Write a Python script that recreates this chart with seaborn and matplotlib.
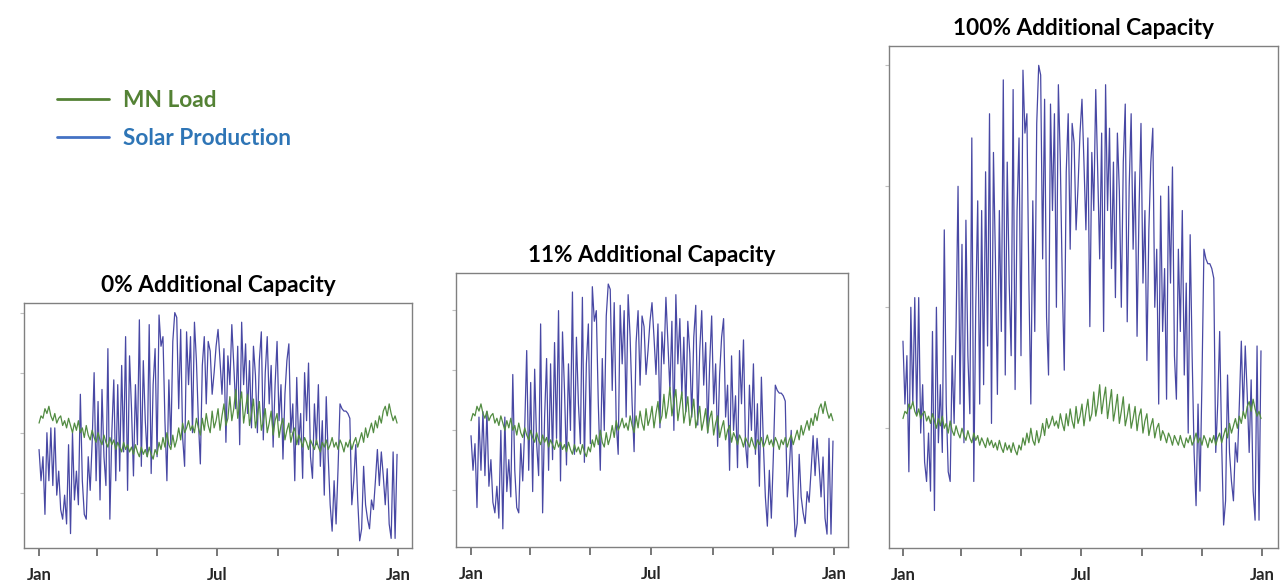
import numpy as np
import pandas as pd
import matplotlib
matplotlib.use("Agg")
import matplotlib.pyplot as plt
from matplotlib.lines import Line2D
from matplotlib.ticker import MultipleLocator
import seaborn as sns

# Daily solar output at today's capacity, one reading every 2 days (summer peak ~1.0)
solar_base = [
    0.43, 0.30, 0.40, 0.16, 0.50, 0.30, 0.52, 0.28, 0.52, 0.24, 0.34, 0.18, 0.14, 0.24, 0.12,
    0.45, 0.08, 0.50, 0.22, 0.34, 0.20, 0.66, 0.30, 0.16, 0.14, 0.40, 0.26, 0.46, 0.75, 0.30,
    0.63, 0.22, 0.68, 0.40, 0.28, 0.85, 0.14, 0.50, 0.72, 0.30, 0.70, 0.34, 0.78, 0.42, 0.90,
    0.26, 0.82, 0.60, 0.32, 0.70, 0.45, 0.97, 0.36, 0.80, 0.55, 0.40, 0.95, 0.33, 0.70, 0.85,
    0.40, 0.99, 0.86, 0.90, 0.55, 0.30, 0.72, 0.45, 0.88, 1.00, 0.98, 0.60, 0.93, 0.48, 0.36,
    0.92, 0.70, 0.90, 0.50, 0.96, 0.80, 0.55, 0.37, 0.78, 0.90, 0.62, 0.88, 0.84, 0.66, 0.75,
    0.86, 0.93, 0.80, 0.66, 0.85, 0.46, 0.82, 0.70, 0.95, 0.78, 0.60, 0.86, 0.45, 0.96, 0.70,
    0.87, 0.58, 0.80, 0.52, 0.86, 0.74, 0.50, 0.80, 0.92, 0.47, 0.75, 0.90, 0.62, 0.78, 0.44,
    0.70, 0.88, 0.55, 0.70, 0.39, 0.66, 0.80, 0.87, 0.50, 0.62, 0.30, 0.73, 0.45, 0.58, 0.31,
    0.75, 0.55, 0.79, 0.40, 0.31, 0.62, 0.45, 0.70, 0.36, 0.55, 0.24, 0.65, 0.40, 0.20, 0.09,
    0.30, 0.12, 0.35, 0.62, 0.60, 0.59, 0.59, 0.58, 0.56, 0.20, 0.30, 0.45, 0.22, 0.05, 0.10,
    0.36, 0.20, 0.14, 0.10, 0.22, 0.18, 0.30, 0.43, 0.28, 0.42, 0.32, 0.20, 0.35, 0.12, 0.06,
    0.42, 0.06, 0.41,
]

# Minnesota load in the same units, one reading every 2 days
mn_load = [
    0.54, 0.57, 0.56, 0.60, 0.58, 0.61, 0.57, 0.55, 0.58, 0.54, 0.56, 0.57, 0.53, 0.55, 0.52, 0.56,
    0.53, 0.50, 0.54, 0.51, 0.55, 0.50, 0.52, 0.48, 0.53, 0.49, 0.47, 0.51, 0.48, 0.46, 0.50,
    0.47, 0.45, 0.49, 0.46, 0.44, 0.48, 0.45, 0.47, 0.43, 0.46, 0.44, 0.42, 0.46, 0.43, 0.45,
    0.42, 0.44, 0.41, 0.45, 0.42, 0.40, 0.44, 0.41, 0.43, 0.40, 0.44, 0.41, 0.39, 0.43, 0.41,
    0.46, 0.43, 0.48, 0.44, 0.50, 0.45, 0.43, 0.49, 0.44, 0.47, 0.52, 0.47, 0.54, 0.50, 0.52,
    0.55, 0.51, 0.53, 0.50, 0.56, 0.52, 0.49, 0.56, 0.51, 0.58, 0.53, 0.50, 0.59, 0.52, 0.55,
    0.60, 0.51, 0.57, 0.62, 0.53, 0.56, 0.65, 0.55, 0.60, 0.68, 0.56, 0.62, 0.67, 0.54, 0.60,
    0.66, 0.53, 0.58, 0.64, 0.52, 0.57, 0.63, 0.51, 0.55, 0.60, 0.50, 0.54, 0.59, 0.49, 0.55,
    0.58, 0.48, 0.53, 0.56, 0.47, 0.51, 0.54, 0.46, 0.50, 0.52, 0.45, 0.49, 0.47, 0.44, 0.48,
    0.46, 0.43, 0.47, 0.45, 0.43, 0.47, 0.44, 0.42, 0.46, 0.44, 0.47, 0.43, 0.45, 0.48, 0.44,
    0.46, 0.43, 0.47, 0.45, 0.42, 0.46, 0.44, 0.47, 0.43, 0.46, 0.48, 0.44, 0.47, 0.50, 0.46,
    0.52, 0.48, 0.51, 0.54, 0.50, 0.55, 0.52, 0.57, 0.54, 0.59, 0.61, 0.57, 0.62, 0.58, 0.55,
    0.57, 0.54,
]

capacity_titles = ["0% Additional Capacity", "11% Additional Capacity", "100% Additional Capacity"]
capacity_scale = [1.0, 1.11, 2.0]

month_ticks = [0, 59, 120, 181, 243, 304, 365]
month_labels = ["Jan", "", "", "Jul", "", "", "Jan"]

solar_days = np.arange(len(solar_base)) * 2
load_days = np.arange(len(mn_load)) * 2

SOLAR_COLOR = "#4848a4"
LOAD_COLOR = "#528c42"

sns.set_style("white")
plt.rcParams["font.family"] = ["Lato", "DejaVu Sans"]

fig = plt.figure(figsize=(12.8, 5.84), dpi=100)

# panel boxes in figure fractions, and their y ranges
rects = [
    [24 / 1280, 36 / 584, 388 / 1280, 245 / 584],
    [456 / 1280, 37 / 584, 392 / 1280, 274 / 584],
    [889 / 1280, 36 / 584, 389 / 1280, 502 / 584],
]
ylims = [(0.02, 1.04), (0.013, 1.156), (0.005, 2.08)]
xlims = [(-15.3, 379.2), (-15.1, 379.1), (-14.2, 381.3)]
ysteps = [0.25, 0.25, 0.5]

for i, title in enumerate(capacity_titles):
    ax = fig.add_axes(rects[i])
    solar = pd.DataFrame({"day": solar_days,
                          "mw": np.array(solar_base) * capacity_scale[i]})
    load = pd.DataFrame({"day": load_days, "mw": mn_load})
    sns.lineplot(data=solar, x="day", y="mw", ax=ax, color=SOLAR_COLOR, linewidth=0.9)
    sns.lineplot(data=load, x="day", y="mw", ax=ax, color=LOAD_COLOR, linewidth=0.9)

    ax.set_xlim(*xlims[i])
    ax.set_ylim(*ylims[i])
    ax.set_xticks(month_ticks)
    ax.set_xticklabels(month_labels, fontsize=12, fontweight="bold")
    ax.yaxis.set_major_locator(MultipleLocator(ysteps[i]))
    ax.set_yticklabels([])
    ax.tick_params(axis="x", length=6, width=1.2, color="#606060", pad=8, bottom=True)
    ax.tick_params(axis="y", length=3, width=0.8, color="#c0c0c0", left=True)
    ax.set_xlabel("")
    ax.set_ylabel("")
    for sp in ax.spines.values():
        sp.set_color("#808080")
        sp.set_linewidth(1.0)
    ax.set_title(title, fontsize=16.3, fontweight="bold", pad=8, color="black")

handles = [Line2D([], [], color="#548235", lw=2),
           Line2D([], [], color="#4472c4", lw=2)]
fig.legend(handles, ["MN Load", "Solar Production"], loc="upper left",
           bbox_to_anchor=(37 / 1280, 1 - 70 / 584), frameon=False,
           prop={"size": 16.3, "weight": "bold"}, labelcolor=["#548235", "#2e75b6"],
           handlelength=2.3, handletextpad=0.6, labelspacing=0.75)

fig.savefig("out.png", dpi=100)
